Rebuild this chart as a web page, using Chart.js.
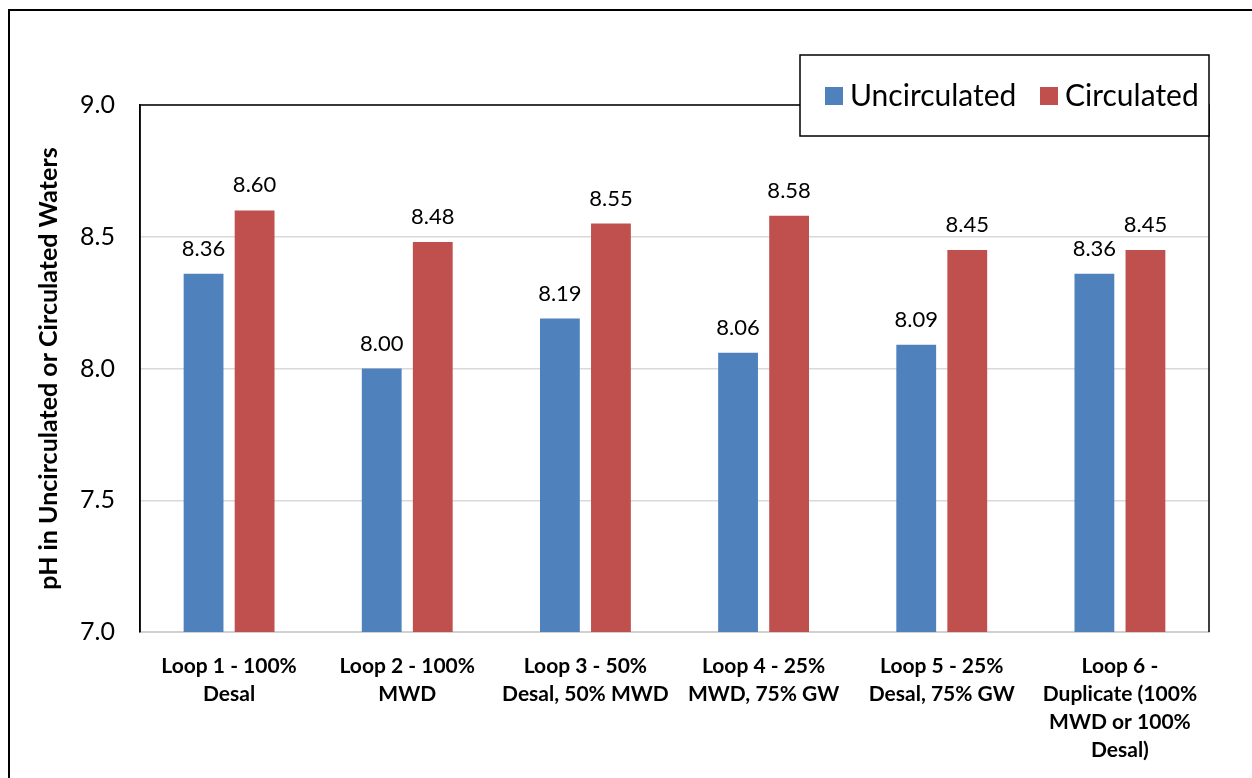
<!DOCTYPE html>
<html>
<head>
<meta charset="utf-8">
<script src="https://cdn.jsdelivr.net/npm/chart.js@4/dist/chart.umd.min.js"></script>
<style>
  html, body { margin: 0; padding: 0; background: #fff; }
  #wrap { width: 1252px; height: 778px; position: relative; }
</style>
</head>
<body>
<div id="wrap"><canvas id="myChart" width="1252" height="778"></canvas></div>
<script>
// Données
const categories = [
  ['Loop 1 - 100%', 'Desal'],
  ['Loop 2 - 100%', 'MWD'],
  ['Loop 3 - 50%', 'Desal, 50% MWD'],
  ['Loop 4 - 25%', 'MWD, 75% GW'],
  ['Loop 5 - 25%', 'Desal, 75% GW'],
  ['Loop 6 -', 'Duplicate (100%', 'MWD or 100%', 'Desal)']
];
const uncirculated = [8.36, 8.00, 8.19, 8.06, 8.09, 8.36];
const circulated = [8.60, 8.48, 8.55, 8.58, 8.45, 8.45];
const yTicks = [7.0, 7.5, 8.0, 8.5, 9.0];

const FONT = 'Lato, "Liberation Sans", sans-serif';

// Cadre extérieur, bordure de la zone de tracé, étiquettes et légende
const decorPlugin = {
  id: 'decor',
  afterDraw(chart) {
    const ctx = chart.ctx;
    const a = chart.chartArea;
    ctx.save();
    // cadre extérieur
    ctx.strokeStyle = '#000';
    ctx.lineWidth = 2;
    ctx.strokeRect(9, 10, 1300, 820);
    // bordure de la zone de tracé (haut, gauche, droite)
    ctx.lineWidth = 1.5;
    ctx.beginPath();
    ctx.moveTo(a.left, a.bottom);
    ctx.lineTo(a.left, a.top);
    ctx.lineTo(a.right, a.top);
    ctx.lineTo(a.right, a.bottom);
    ctx.stroke();

    // étiquettes de valeurs
    ctx.fillStyle = '#000';
    ctx.font = '22px ' + FONT;
    ctx.textAlign = 'center';
    ctx.textBaseline = 'bottom';
    chart.data.datasets.forEach((ds, i) => {
      chart.getDatasetMeta(i).data.forEach((bar, j) => {
        ctx.fillText(ds.data[j].toFixed(2), bar.x, bar.y - 14);
      });
    });

    // légende
    const lx = 800, ly = 55, lw = 409, lh = 81;
    ctx.fillStyle = '#fff';
    ctx.fillRect(lx, ly, lw, lh);
    ctx.strokeStyle = '#000';
    ctx.lineWidth = 1.5;
    ctx.strokeRect(lx, ly, lw, lh);
    ctx.font = '30px ' + FONT;
    ctx.textAlign = 'left';
    ctx.textBaseline = 'middle';
    const items = [
      { x: 825, ds: chart.data.datasets[0] },
      { x: 1040, ds: chart.data.datasets[1] }
    ];
    items.forEach(it => {
      ctx.fillStyle = it.ds.backgroundColor;
      ctx.fillRect(it.x, 87, 18, 18);
      ctx.fillStyle = '#000';
      ctx.fillText(it.ds.label, it.x + 25, 96);
    });
    ctx.restore();
  }
};

const ctx = document.getElementById('myChart').getContext('2d');
const myChart = new Chart(ctx, {
  type: 'bar',
  data: {
    labels: categories,
    datasets: [
      {
        label: 'Uncirculated',
        data: uncirculated,
        backgroundColor: '#4F81BD',
        barPercentage: 0.78,
        categoryPercentage: 0.573
      },
      {
        label: 'Circulated',
        data: circulated,
        backgroundColor: '#C0504D',
        barPercentage: 0.78,
        categoryPercentage: 0.573
      }
    ]
  },
  options: {
    responsive: false,
    animation: false,
    layout: { padding: { left: 0, top: 105, right: 43, bottom: 0 } },
    plugins: {
      legend: { display: false },
      tooltip: { enabled: false }
    },
    scales: {
      x: {
        grid: { display: false, drawTicks: false },
        border: { color: '#d0d0d0', width: 2 },
        ticks: {
          color: '#000',
          padding: 20,
          maxRotation: 0,
          autoSkip: false,
          font: { family: FONT, size: 21, weight: 'bold', lineHeight: 1.33 }
        },
        afterFit(scale) { scale.height = 778 - 632; }
      },
      y: {
        min: 7,
        max: 9,
        afterBuildTicks(scale) { scale.ticks = yTicks.map(v => ({ value: v })); },
        grid: { color: '#d9d9d9', lineWidth: 1.5, drawTicks: false },
        border: { color: '#000', width: 1.5 },
        ticks: {
          color: '#000',
          padding: 25,
          font: { family: FONT, size: 25 },
          callback: v => v.toFixed(1)
        },
        title: {
          display: true,
          text: 'pH in Uncirculated or Circulated Waters',
          color: '#000',
          font: { family: FONT, size: 25, weight: 'bold' },
          padding: { top: 34, bottom: 0 }
        },
        afterFit(scale) { scale.width = 140; }
      }
    }
  },
  plugins: [decorPlugin]
});
</script>
</body>
</html>
